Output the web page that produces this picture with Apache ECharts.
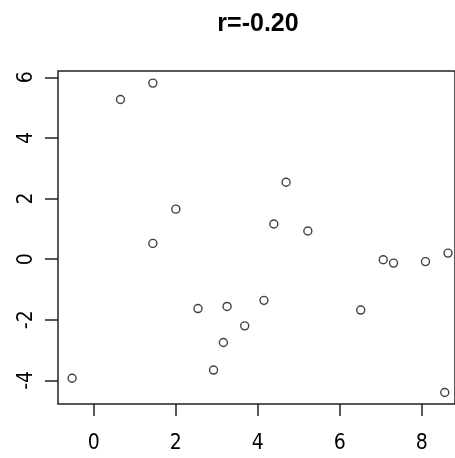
<!DOCTYPE html>
<html>
<head>
<meta charset="utf-8">
<script src="https://cdn.jsdelivr.net/npm/echarts@6/dist/echarts.min.js"></script>
<style>
  html, body { margin: 0; padding: 0; background: #fff; }
  #chart { width: 455px; height: 458px; }
</style>
</head>
<body>
<div id="chart"></div>
<script>
var titleText = 'r=-0.20'
var xVals = [-0.53, 0.65, 1.44, 2.0, 1.44, 5.22, 6.51, 7.06, 7.31, 8.09, 8.64, 8.56, 4.69, 4.39, 2.54, 3.25, 4.15, 3.68, 3.16, 2.92]
var yVals = [-3.93, 5.27, 5.81, 1.65, 0.52, 0.93, -1.68, -0.02, -0.13, -0.08, 0.2, -4.4, 2.54, 1.16, -1.63, -1.56, -1.36, -2.2, -2.75, -3.66]
var xTicks = [0, 2, 4, 6, 8]
var yTicks = [-4, -2, 0, 2, 4, 6]

var points = xVals.map(function (x, i) { return [x, yVals[i]] })

var labelFont = {
  color: '#000',
  fontSize: 21,
  fontFamily: '"Liberation Sans Narrow", "DejaVu Sans Condensed", "Liberation Sans", sans-serif'
}

var chart = echarts.init(document.getElementById('chart'))
chart.setOption({
  animation: false,
  backgroundColor: '#fff',
  graphic: [{
    type: 'text',
    x: 258,
    y: 24,
    style: {
      text: titleText,
      align: 'center',
      verticalAlign: 'middle',
      font: 'bold 25px "Liberation Sans", Arial, sans-serif',
      fill: '#000'
    }
  }],
  grid: {
    show: true,
    left: 58,
    top: 71,
    right: -2,
    bottom: 54,
    borderColor: '#222',
    borderWidth: 1.5,
    backgroundColor: 'transparent'
  },
  xAxis: {
    type: 'value',
    min: -0.874,
    max: 8.81,
    splitLine: { show: false },
    axisLine: { show: false, onZero: false },
    axisTick: {
      show: true,
      customValues: xTicks,
      length: 12,
      lineStyle: { color: '#222', width: 1.5 }
    },
    axisLabel: Object.assign({ customValues: xTicks, margin: 29 }, labelFont)
  },
  yAxis: {
    type: 'value',
    min: -4.78,
    max: 6.21,
    splitLine: { show: false },
    axisLine: { show: false, onZero: false },
    axisTick: {
      show: true,
      customValues: yTicks,
      length: 13,
      lineStyle: { color: '#222', width: 1.5 }
    },
    axisLabel: Object.assign({ customValues: yTicks, margin: 21, rotate: 90 }, labelFont)
  },
  series: [{
    type: 'scatter',
    data: points,
    symbol: 'circle',
    symbolSize: 8,
    itemStyle: {
      color: '#fff',
      borderColor: '#111',
      borderWidth: 1.4
    }
  }]
})
</script>
</body>
</html>
